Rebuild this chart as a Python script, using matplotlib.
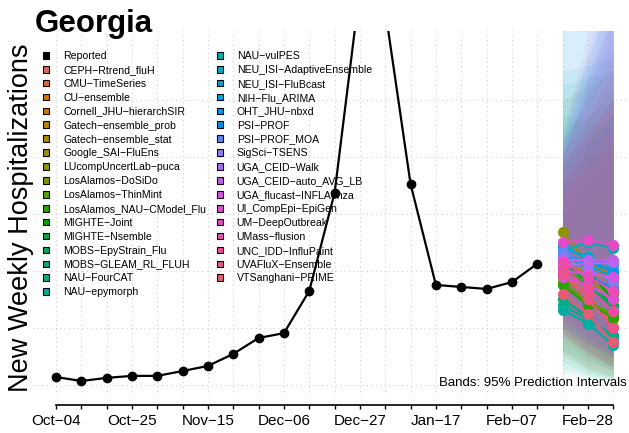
import matplotlib
matplotlib.use("Agg")
import matplotlib.pyplot as plt
import matplotlib.dates as mdates
from matplotlib.patches import Patch
import numpy as np

plt.rcParams["font.family"] = ["Liberation Sans", "DejaVu Sans"]

# weekly dates, Oct-04 .. Mar-07
start = np.datetime64("2025-10-04")
all_weeks = start + np.arange(23) * np.timedelta64(7, "D")
reported_dates = all_weeks[:20]
fc_dates = all_weeks[20:23]

reported = [28, 14, 25, 32, 32, 49, 67, 109, 165, 182, 330, 674,
            1390, 1316, 705, 351, 344, 337, 361, 425]

models = ["CEPH-Rtrend_fluH", "CMU-TimeSeries", "CU-ensemble", "Cornell_JHU-hierarchSIR",
          "Gatech-ensemble_prob", "Gatech-ensemble_stat", "Google_SAI-FluEns",
          "LUcompUncertLab-puca", "LosAlamos-DoSiDo", "LosAlamos-ThinMint",
          "LosAlamos_NAU-CModel_Flu", "MIGHTE-Joint", "MIGHTE-Nsemble",
          "MOBS-EpyStrain_Flu", "MOBS-GLEAM_RL_FLUH", "NAU-FourCAT", "NAU-epymorph",
          "NAU-vulPES", "NEU_ISI-AdaptiveEnsemble", "NEU_ISI-FluBcast", "NIH-Flu_ARIMA",
          "OHT_JHU-nbxd", "PSI-PROF", "PSI-PROF_MOA", "SigSci-TSENS", "UGA_CEID-Walk",
          "UGA_CEID-auto_AVG_LB", "UGA_flucast-INFLAenza", "UI_CompEpi-EpiGen",
          "UM-DeepOutbreak", "UMass-flusion", "UNC_IDD-InfluPaint", "UVAFluX-Ensemble",
          "VTSanghani-PRIME"]

# medians, 1-3 weeks ahead
med_1 = [390, 430, 410, 450, 420, 440, 400, 537, 380, 360, 350, 470, 430, 410, 300, 280, 263,
         470, 490, 480, 450, 460, 430, 470, 450, 420, 440, 400, 380, 500, 430, 410, 390, 320]
med_2 = [320, 380, 370, 400, 400, 420, 360, 430, 300, 290, 280, 400, 360, 350, 240, 230, 215,
         500, 440, 450, 420, 430, 380, 410, 400, 425, 440, 390, 350, 509, 380, 340, 300, 250]
med_3 = [205, 330, 340, 360, 380, 390, 320, 360, 230, 250, 240, 300, 280, 270, 160, 175, 140,
         480, 400, 420, 380, 400, 340, 360, 370, 430, 440, 380, 300, 491, 330, 260, 200, 150]
# 95% intervals
lo_1 = [190, 250, 220, 260, 280, 300, 180, 300, 120, 100, 150, 230, 200, 180, 80, 60, 40,
        120, 270, 260, 250, 200, 210, 240, 230, 200, 230, 190, 170, 300, 230, 180, 170, 110]
lo_2 = [120, 170, 150, 190, 230, 250, 120, 180, 60, 50, 90, 150, 130, 110, 40, 30, 25,
        80, 200, 210, 190, 140, 150, 170, 170, 150, 180, 140, 110, 250, 160, 110, 100, 60]
lo_3 = [60, 110, 90, 130, 180, 200, 70, 100, 30, 25, 50, 80, 70, 60, 20, 20, 20,
        50, 140, 160, 140, 100, 100, 110, 120, 110, 140, 100, 70, 200, 100, 60, 50, 30]
hi_1 = [700, 650, 680, 760, 560, 580, 720, 850, 900, 1000, 780, 820, 780, 760, 950, 1050, 1100,
        900, 850, 820, 700, 1350, 1300, 850, 800, 850, 880, 800, 820, 800, 750, 780, 720, 680]
hi_2 = [780, 780, 840, 930, 650, 690, 860, 1000, 950, 1050, 890, 930, 860, 850, 920, 1080, 1120,
        1150, 1080, 1030, 820, 1480, 1400, 1120, 1080, 1170, 1240, 1050, 1010, 950, 870, 890, 810, 760]
hi_3 = [850, 900, 1000, 1100, 750, 800, 1000, 1150, 1000, 1100, 1000, 1050, 950, 950, 900, 1100, 1150,
        1400, 1300, 1250, 950, 1600, 1500, 1400, 1350, 1500, 1600, 1300, 1200, 1100, 1000, 1000, 900, 850]

grid_y = [0, 200, 400, 600, 800, 1000]


def hcl(h, c, l):
    # polar LUV -> sRGB
    hr = np.radians(h)
    u, v = c * np.cos(hr), c * np.sin(hr)
    xn, yn, zn = 95.047, 100.0, 108.883
    un = 4 * xn / (xn + 15 * yn + 3 * zn)
    vn = 9 * yn / (xn + 15 * yn + 3 * zn)
    y = yn * ((l + 16) / 116) ** 3 if l > 8 else yn * l / 903.3
    uu = u / (13 * l) + un
    vv = v / (13 * l) + vn
    x = 9 * y * uu / (4 * vv)
    z = -x / 3 - 5 * y + 3 * y / vv
    x, y, z = x / 100, y / 100, z / 100
    r = 3.2406 * x - 1.5372 * y - 0.4986 * z
    g = -0.9689 * x + 1.8758 * y + 0.0415 * z
    b = 0.0557 * x - 0.2040 * y + 1.0570 * z
    out = []
    for ch in (r, g, b):
        ch = 12.92 * ch if ch <= 0.0031308 else 1.055 * ch ** (1 / 2.4) - 0.055
        out.append(min(max(ch, 0), 1))
    return tuple(out)


n = len(models)
colors = [hcl(15 + 360 * i / n, 100, 58) for i in range(n)]

fig = plt.figure(figsize=(6.29, 4.33), dpi=100)
ax = fig.add_axes([33 / 629, 1 - 396 / 433, 595 / 629, 365 / 433])

for i in range(n):
    ax.fill_between(fc_dates, [lo_1[i], lo_2[i], lo_3[i]], [hi_1[i], hi_2[i], hi_3[i]],
                    color=colors[i], alpha=0.08, linewidth=0)
for i in range(n):
    ax.plot(fc_dates, [med_1[i], med_2[i], med_3[i]], "-o", color=colors[i],
            lw=1.5, ms=7, zorder=3)

ax.plot(reported_dates, reported, "-o", color="black", lw=1.6, ms=6, zorder=4)

x0 = mdates.date2num(start)
ax.set_xlim(x0 - 6.36, x0 + 158.1)
ax.set_ylim(-38.6, 1242)

ax.set_xticks(all_weeks)
labels = []
for k, d in enumerate(all_weeks):
    if k % 3 == 0 and k < 22:
        labels.append(d.astype(object).strftime("%b-%d").replace("-", "\u2212"))
    else:
        labels.append("")
ax.set_xticklabels(labels)
ax.set_yticks(grid_y)
ax.tick_params(axis="y", length=0, labelleft=False)
ax.tick_params(axis="x", direction="out", length=3, width=1, labelsize=11, pad=3.5)

for s in ["top", "right", "left"]:
    ax.spines[s].set_visible(False)
ax.spines["bottom"].set_position(("outward", 6.5))
ax.spines["bottom"].set_bounds(mdates.date2num(all_weeks[0]), mdates.date2num(all_weeks[-1]))
ax.spines["bottom"].set_linewidth(1.2)

ax.grid(True, color="#cfcfcf", linestyle=(0, (1, 3)), linewidth=0.8)
ax.set_axisbelow(True)

handles = [Patch(facecolor="black", edgecolor="black", linewidth=0.8)]
handles += [Patch(facecolor=c, edgecolor="black", linewidth=0.8) for c in colors]
leg_labels = ["Reported"] + [m.replace("-", "\u2212") for m in models]
ax.legend(handles, leg_labels, ncol=2, loc="upper left",
          bbox_to_anchor=(43 / 629, 1 - 51 / 433), bbox_transform=fig.transFigure,
          frameon=False, fontsize=7.6, handlelength=0.6, handleheight=0.6,
          handletextpad=1.3, columnspacing=1.0, labelspacing=0.37,
          borderpad=0, borderaxespad=0)

fig.text(35 / 629, 1 - 32 / 433, "Georgia", fontsize=22.5, fontweight="bold", va="baseline")
fig.text(21 / 629, 1 - 218 / 433, "New Weekly Hospitalizations", rotation=90,
         ha="center", va="center", fontsize=19.5)
fig.text(627 / 629, 1 - 383 / 433, "Bands: 95% Prediction Intervals",
         ha="right", va="center", fontsize=9.5)

fig.savefig("out.png", dpi=100)
